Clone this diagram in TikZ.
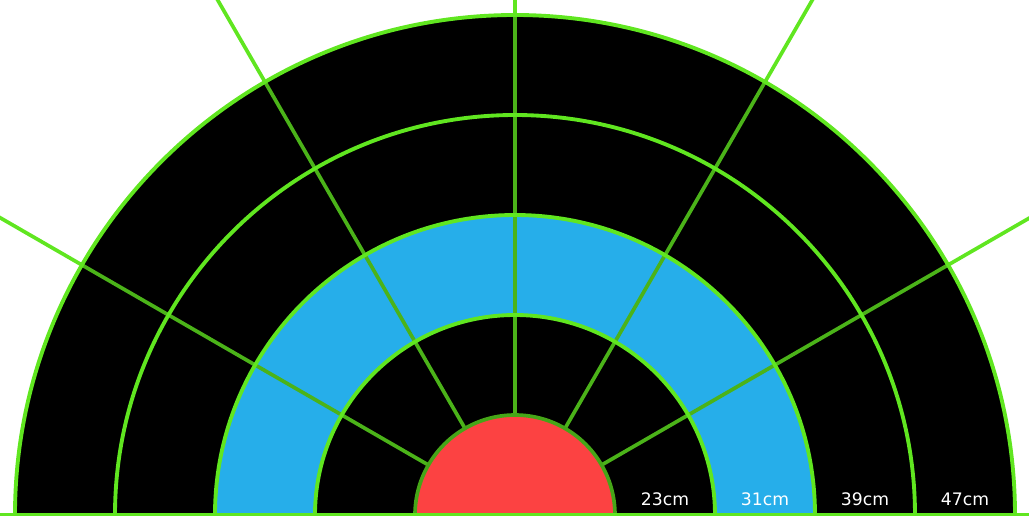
\documentclass[tikz,border=0pt]{standalone}
\usepackage{fontspec}
\setsansfont{DejaVu Sans}
\definecolor{ringgreen}{RGB}{96,230,32}
\definecolor{ringblue}{RGB}{38,174,234}
\definecolor{bullred}{RGB}{252,66,66}

\begin{document}
\begin{tikzpicture}
    \tikzset{
        ring/.style={draw=ringgreen, line width=2.2pt},
        spoke/.style={draw=ringgreen!78!black, line width=2.1pt},
        outspoke/.style={draw=ringgreen, line width=2.1pt},
        bull/.style={fill=bullred, draw=ringgreen!72!black, line width=2.1pt},
        distlabel/.style={text=white, font=\sffamily\fontsize{9.8}{11}\selectfont, anchor=center}
    }
    \useasboundingbox (-10.3,0) rectangle (10.28,10.3);
    \clip (-10.3,0) rectangle (10.28,10.3);

    % target faces
    \fill [black] (10,0) arc (0:180:10) -- cycle;
    \fill [ringblue] (6,0) arc (0:180:6) -- (-4,0) arc (180:0:4) -- cycle;

    % spokes
    \foreach \a in {30,60,...,150} {
        \draw [spoke] (\a:2) -- (\a:10);
        \draw [outspoke] (\a:10) -- (\a:16);
    }

    % rings
    \foreach \r in {4,6,8,10}
        \draw [ring] (\r,0) arc (0:180:\r);
    \draw [bull] (2,0) arc (0:180:2) -- cycle;
    \draw [ring] (-10.3,0) -- (10.28,0);

    % distances
    \node [distlabel] (d23) at (3,0.32) {23cm};
    \node [distlabel] (d31) at (5,0.32) {31cm};
    \node [distlabel] (d39) at (7,0.32) {39cm};
    \node [distlabel] (d47) at (9,0.32) {47cm};
\end{tikzpicture}
\end{document}
